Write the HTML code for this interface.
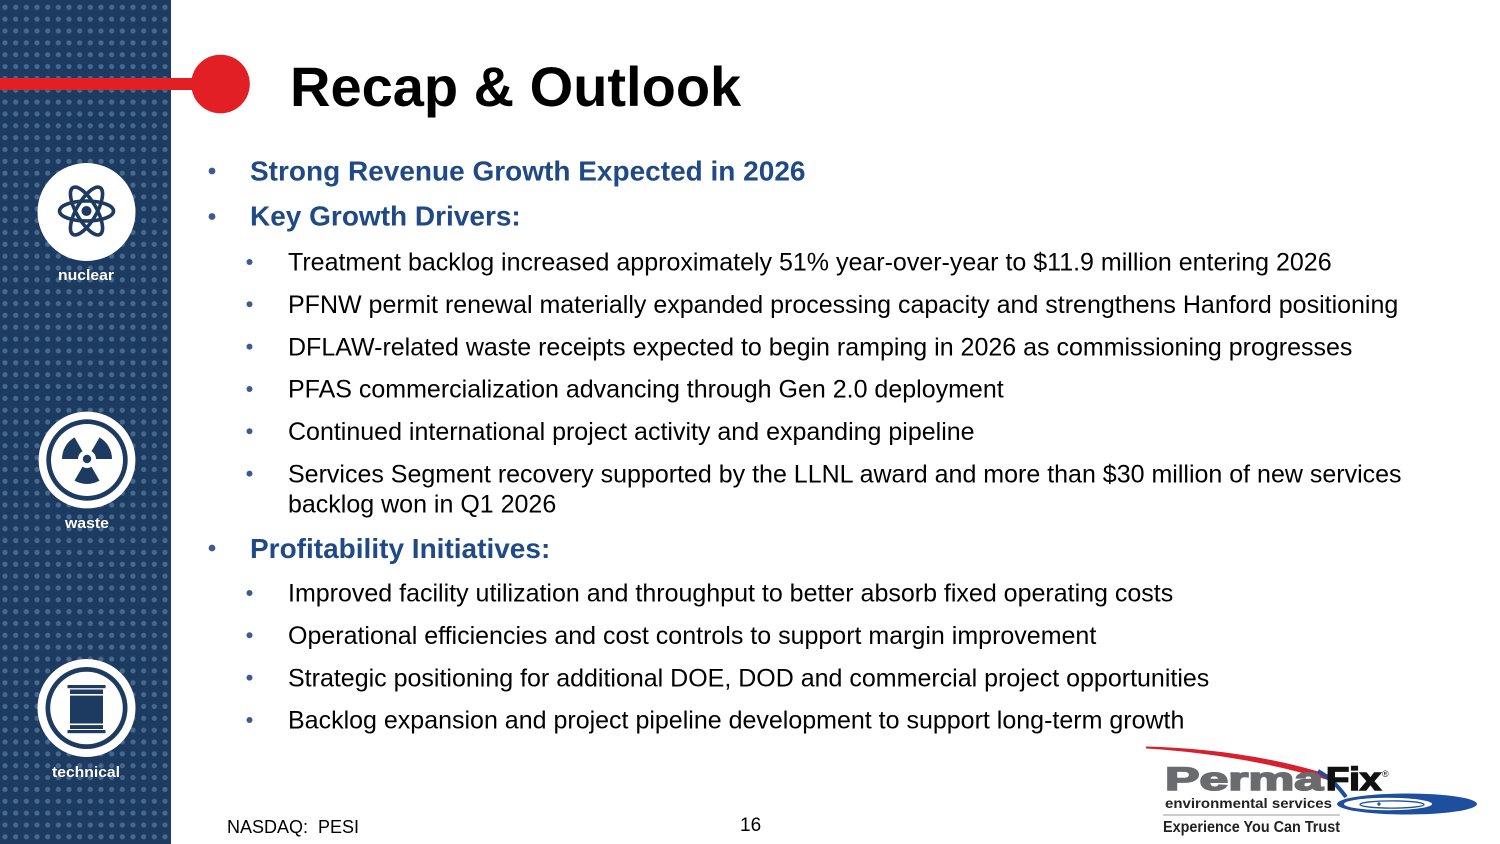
<!DOCTYPE html>
<html>
<head>
<meta charset="utf-8">
<style>
  html,body{margin:0;padding:0;background:#fff;}
  body{width:1500px;height:844px;overflow:hidden;}
  svg{display:block;}
  text{font-family:"Liberation Sans", Arial, sans-serif;}
</style>
</head>
<body>
<svg width="1500" height="844" viewBox="0 0 1500 844" xmlns="http://www.w3.org/2000/svg">
  <defs>
    <pattern id="dots" x="0" y="0" width="10.667" height="11.85" patternUnits="userSpaceOnUse">
      <circle cx="5" cy="7.3" r="2.6" fill="#46678e"/>
    </pattern>
    <path id="blade" d="M-4.5,-7.79 L-12.5,-21.65 A25,25 0 0 1 12.5,-21.65 L4.5,-7.79 A9,9 0 0 0 -4.5,-7.79 Z"/>
  </defs>

  <rect x="0" y="0" width="1500" height="844" fill="#ffffff"/>

  <!-- Sidebar -->
  <rect x="0" y="0" width="171" height="844" fill="#1d3b60"/>
  <rect x="0" y="0" width="171" height="844" fill="url(#dots)"/>

  <!-- Red line + circle -->
  <rect x="0" y="78" width="205" height="12" fill="#e31f26"/>
  <circle cx="220.5" cy="84" r="29.3" fill="#e31f26"/>

  <!-- Nuclear icon -->
  <circle cx="86.5" cy="212" r="49" fill="#ffffff"/>
  <g fill="none" stroke="#1d3b60" stroke-width="3.6">
    <ellipse cx="86.5" cy="211" rx="27" ry="10"/>
    <ellipse cx="86.5" cy="211" rx="27" ry="10" transform="rotate(60 86.5 211)"/>
    <ellipse cx="86.5" cy="211" rx="27" ry="10" transform="rotate(-60 86.5 211)"/>
  </g>
  <circle cx="86.5" cy="211" r="7" fill="#ffffff"/>
  <circle cx="86.5" cy="211" r="5" fill="#1d3b60"/>
  <text x="86" y="280" font-size="15" font-weight="bold" fill="#ffffff" text-anchor="middle" textLength="56" lengthAdjust="spacingAndGlyphs">nuclear</text>

  <!-- Waste icon -->
  <circle cx="87" cy="460" r="48.4" fill="#ffffff"/>
  <circle cx="87" cy="460" r="40.7" fill="#1d3b60"/>
  <circle cx="87" cy="460" r="36" fill="#ffffff"/>
  <g fill="#1d3b60" transform="translate(87 459)">
    <path d="M-4.5,-7.79 L-12.5,-21.65 A25,25 0 0 1 12.5,-21.65 L4.5,-7.79 A9,9 0 0 0 -4.5,-7.79 Z" transform="rotate(-60)"/>
    <path d="M-4.5,-7.79 L-12.5,-21.65 A25,25 0 0 1 12.5,-21.65 L4.5,-7.79 A9,9 0 0 0 -4.5,-7.79 Z" transform="rotate(60)"/>
    <path d="M-4.5,-7.79 L-12.5,-21.65 A25,25 0 0 1 12.5,-21.65 L4.5,-7.79 A9,9 0 0 0 -4.5,-7.79 Z" transform="rotate(180)"/>
    <circle cx="0" cy="0" r="4.2"/>
  </g>
  <text x="87" y="528" font-size="15" font-weight="bold" fill="#ffffff" text-anchor="middle" textLength="44" lengthAdjust="spacingAndGlyphs">waste</text>

  <!-- Technical icon -->
  <circle cx="86.5" cy="708" r="49" fill="#ffffff"/>
  <circle cx="86.5" cy="708" r="41" fill="#1d3b60"/>
  <circle cx="86.5" cy="708" r="36.3" fill="#ffffff"/>
  <g fill="#1d3b60">
    <rect x="67.5" y="685" width="38" height="3.2"/>
    <rect x="70" y="689.5" width="33" height="39.5"/>
    <rect x="67.5" y="730" width="38" height="3.2"/>
  </g>
  <rect x="70" y="694" width="33" height="1.6" fill="#ffffff"/>
  <rect x="70" y="723.5" width="33" height="1.6" fill="#ffffff"/>
  <text x="86" y="777" font-size="15" font-weight="bold" fill="#ffffff" text-anchor="middle" textLength="68" lengthAdjust="spacingAndGlyphs">technical</text>

  <!-- Title -->
  <text x="290" y="106" font-size="56" font-weight="bold" fill="#000000">Recap &amp; Outlook</text>

  <!-- Level 1 bullets -->
  <g fill="#3b5c92">
    <circle cx="212" cy="171" r="3.4"/>
    <circle cx="212" cy="216.5" r="3.4"/>
    <circle cx="212" cy="548" r="3.4"/>
  </g>
  <g font-size="28" font-weight="bold" fill="#1f4a86">
    <text x="250" y="180.5">Strong Revenue Growth Expected in 2026</text>
    <text x="250" y="225.5">Key Growth Drivers:</text>
    <text x="250" y="558">Profitability Initiatives:</text>
  </g>

  <!-- Level 2 bullets -->
  <g fill="#3b5c92">
    <circle cx="249.5" cy="262" r="3"/>
    <circle cx="249.5" cy="304.3" r="3"/>
    <circle cx="249.5" cy="346.6" r="3"/>
    <circle cx="249.5" cy="389" r="3"/>
    <circle cx="249.5" cy="431.3" r="3"/>
    <circle cx="249.5" cy="473.6" r="3"/>
    <circle cx="249.5" cy="593" r="3"/>
    <circle cx="249.5" cy="635.3" r="3"/>
    <circle cx="249.5" cy="677.6" r="3"/>
    <circle cx="249.5" cy="720" r="3"/>
  </g>
  <g font-size="25" fill="#000000">
    <text x="288" y="270.7">Treatment backlog increased approximately 51% year-over-year to $11.9 million entering 2026</text>
    <text x="288" y="313">PFNW permit renewal materially expanded processing capacity and strengthens Hanford positioning</text>
    <text x="288" y="355.3">DFLAW-related waste receipts expected to begin ramping in 2026 as commissioning progresses</text>
    <text x="288" y="397.7">PFAS commercialization advancing through Gen 2.0 deployment</text>
    <text x="288" y="440">Continued international project activity and expanding pipeline</text>
    <text x="288" y="482.3">Services Segment recovery supported by the LLNL award and more than $30 million of new services</text>
    <text x="288" y="512.3">backlog won in Q1 2026</text>
    <text x="288" y="601.7">Improved facility utilization and throughput to better absorb fixed operating costs</text>
    <text x="288" y="644">Operational efficiencies and cost controls to support margin improvement</text>
    <text x="288" y="686.3">Strategic positioning for additional DOE, DOD and commercial project opportunities</text>
    <text x="288" y="728.7">Backlog expansion and project pipeline development to support long-term growth</text>
  </g>

  <!-- Footer -->
  <text x="227" y="833" font-size="18" fill="#000000">NASDAQ:&#160; PESI</text>
  <text x="740" y="831" font-size="19" fill="#000000">16</text>

  <!-- Logo -->
  <path d="M1146,746.5 C1205,748 1270,756 1330,775 L1328,780 C1268,762 1205,752 1146,748.5 Z" fill="#d7202e"/>
  <path d="M1318,771 C1330,778 1338,786 1346,797" stroke="#1e4f9f" stroke-width="4" fill="none"/>
  <ellipse cx="1407" cy="804" rx="70" ry="10.5" fill="#1e4f9f"/>
  <ellipse cx="1388" cy="804" rx="44" ry="6.2" fill="#ffffff"/>
  <ellipse cx="1392" cy="804.5" rx="32" ry="3.6" fill="none" stroke="#1e4f9f" stroke-width="1.3"/>
  <circle cx="1379" cy="804" r="1.6" fill="#1e4f9f"/>
  <text x="1165" y="790" font-size="32" font-weight="bold" fill="#6a6b6e" stroke="#6a6b6e" stroke-width="1.6" textLength="158" lengthAdjust="spacingAndGlyphs">Perma</text>
  <text x="1326" y="790" font-size="32" font-weight="bold" fill="#111111" stroke="#111111" stroke-width="1.6" textLength="55" lengthAdjust="spacingAndGlyphs">Fix</text>
  <text x="1382" y="777" font-size="9" fill="#111111">®</text>
  <text x="1165" y="808" font-size="14" font-weight="bold" fill="#222222" textLength="167" lengthAdjust="spacingAndGlyphs">environmental services</text>
  <rect x="1163" y="814.5" width="177" height="1" fill="#9a9a9a"/>
  <text x="1163" y="832" font-size="16" font-weight="bold" fill="#222222" textLength="177" lengthAdjust="spacingAndGlyphs">Experience You Can Trust</text>
</svg>
</body>
</html>
